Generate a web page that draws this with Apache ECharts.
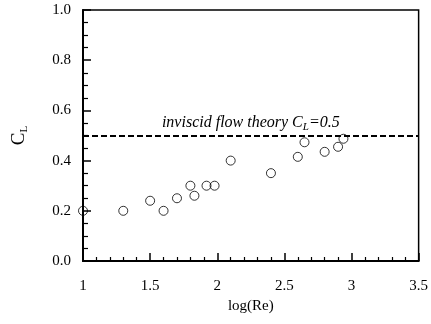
<!DOCTYPE html>
<html lang="en">
    <head>
        <meta charset="UTF-8">
        <title>CL vs log(Re)</title>
        <style>
            html, body { margin: 0; padding: 0; background: #fff; }
        </style>
    </head>
    <body>
        <div id="main" style="width: 431px;height:324px;"></div>
        <script src="https://cdn.jsdelivr.net/npm/echarts@6/dist/echarts.min.js"></script>
        <script type="text/javascript">
            // measured points
            var logRe = [1.0, 1.3, 1.5, 1.6, 1.7, 1.8, 1.83, 1.92, 1.98, 2.1, 2.4, 2.6, 2.65, 2.8, 2.9, 2.94]
            var cl    = [0.20, 0.20, 0.24, 0.20, 0.25, 0.30, 0.26, 0.30, 0.30, 0.40, 0.35, 0.415, 0.473, 0.435, 0.455, 0.487]
            // inviscid theory value
            var theoryCL = 0.5

            var serif = 'Liberation Serif'
            var myChart = echarts.init(document.getElementById('main'))

            var points = logRe.map(function (x, i) { return [x, cl[i]] })

            var option = {
                animation: false,
                grid: {
                    left: 83, right: 11, top: 10, bottom: 63,
                    show: true,
                    borderColor: '#000',
                    borderWidth: 1.5
                },
                xAxis: {
                    type: 'value',
                    min: 1, max: 3.5, interval: 0.5,
                    name: 'log(Re)',
                    nameLocation: 'middle',
                    nameGap: 32,
                    nameTextStyle: { fontFamily: serif, fontSize: 15, color: '#000' },
                    axisLine: { lineStyle: { color: '#000', width: 2 } },
                    axisTick: { inside: true, length: 8, lineStyle: { color: '#000', width: 1.5 } },
                    minorTick: { show: true, splitNumber: 5, length: 4, lineStyle: { color: '#000', width: 1.2 } },
                    axisLabel: { fontFamily: serif, fontSize: 15, color: '#000', margin: 18 },
                    splitLine: { show: false }
                },
                yAxis: {
                    type: 'value',
                    min: 0, max: 1, interval: 0.2,
                    name: '{c|C}{s|L}',
                    nameLocation: 'middle',
                    nameGap: 53,
                    nameRotate: 90,
                    nameMoveOverlap: false,
                    nameTextStyle: {
                        rich: {
                            c: { fontFamily: serif, fontSize: 19, color: '#000' },
                            s: { fontFamily: serif, fontSize: 11, color: '#000', padding: [10, 0, 0, 0] }
                        }
                    },
                    axisLine: { lineStyle: { color: '#000', width: 2 } },
                    axisTick: { inside: true, length: 8, lineStyle: { color: '#000', width: 1.5 } },
                    minorTick: { show: true, splitNumber: 4, length: 5, lineStyle: { color: '#000', width: 1.2 } },
                    axisLabel: {
                        fontFamily: serif, fontSize: 15, color: '#000', margin: 12,
                        formatter: function (v) { return v.toFixed(1) }
                    },
                    splitLine: { show: false }
                },
                series: [
                    {
                        type: 'scatter',
                        data: points,
                        symbol: 'circle',
                        symbolSize: 9,
                        itemStyle: { color: 'rgba(255,255,255,0)', borderColor: '#000', borderWidth: 1 },
                        markLine: {
                            silent: true,
                            symbol: 'none',
                            lineStyle: { color: '#000', width: 2, type: [6, 3] },
                            label: {
                                position: 'insideMiddleTop',
                                distance: 3,
                                formatter: '{t|inviscid flow theory C}{s|L}{t|=' + theoryCL + '}',
                                rich: {
                                    t: { fontFamily: serif, fontStyle: 'italic', fontSize: 16, color: '#000' },
                                    s: { fontFamily: serif, fontStyle: 'italic', fontSize: 11, color: '#000', padding: [9, 0, 0, 0] }
                                }
                            },
                            data: [{ yAxis: theoryCL }]
                        }
                    }
                ]
            }
            myChart.setOption(option)
        </script>
    </body>
</html>
